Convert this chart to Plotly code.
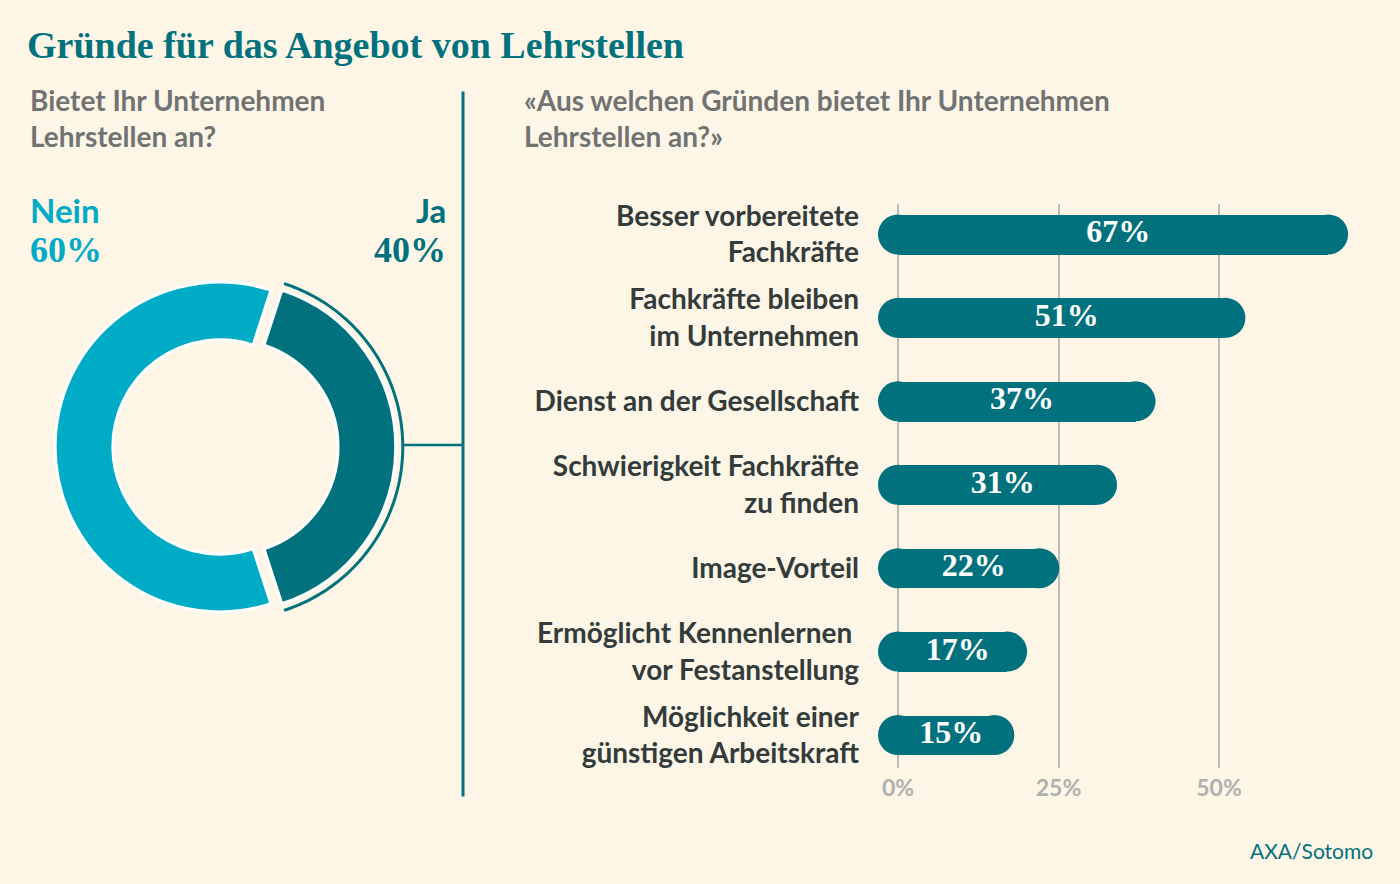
import numpy as np
import plotly.graph_objects as go

# ---------------- data ----------------
donut_labels = ["Ja", "Nein"]
donut_values = [40, 60]

categories = [
    "Besser vorbereitete<br>Fachkräfte",
    "Fachkräfte bleiben<br>im Unternehmen",
    "Dienst an der Gesellschaft",
    "Schwierigkeit Fachkräfte<br>zu finden",
    "Image-Vorteil",
    "Ermöglicht Kennenlernen <br>vor Festanstellung",
    "Möglichkeit einer<br>günstigen Arbeitskraft",
]
bar_values = [67, 51, 37, 31, 22, 17, 15]
x_tick_vals = [0, 25, 50]
x_tick_text = ["0%", "25%", "50%"]

# ---------------- styles ----------------
W, H = 1400, 884
BG = "#fdf6e7"
TEAL = "#01727d"
CYAN = "#00abc6"
DARK = "#333b3b"
GREY_TXT = "#707372"
SANS = "Lato, 'Noto Sans', sans-serif"
SERIF = "'Liberation Serif', 'DejaVu Serif', serif"


def fx(x):
    return x / W


def fy(y):
    return 1 - y / H


fig = go.Figure()

# ---------------- donut ----------------
cx, cy, R = 220, 445, 166
pull = 0.066
half_box = R * (1 + pull)
fig.add_trace(go.Pie(
    labels=donut_labels, values=donut_values, sort=False,
    direction="clockwise", rotation=18, hole=0.65,
    pull=[pull, 0],
    marker=dict(colors=[TEAL, CYAN], line=dict(color="#ffffff", width=3)),
    textinfo="none", hoverinfo="label+percent", showlegend=False,
    domain=dict(x=[fx(cx - half_box), fx(cx + half_box)],
                y=[fy(cy + half_box), fy(cy - half_box)]),
))

# arc around the "Ja" slice
ja_share = donut_values[0] / sum(donut_values)
half_angle = ja_share * 360 / 2
arc_theta = np.linspace(-half_angle, half_angle, 120)
acx = cx + pull * R
arc_R = 173
pol_half = arc_R * 1.05
fig.add_trace(go.Scatterpolar(
    r=np.ones_like(arc_theta), theta=arc_theta, mode="lines",
    line=dict(color=TEAL, width=3), hoverinfo="skip", showlegend=False,
    subplot="polar",
))

# ---------------- bars ----------------
ypos = list(range(len(categories)))
bar_color = TEAL
fig.add_trace(go.Bar(
    x=bar_values, y=ypos, orientation="h", width=0.476,
    marker=dict(color=bar_color, line=dict(width=0)),
    hoverinfo="x", showlegend=False,
))
# round caps
fig.add_trace(go.Scatter(
    x=[0] * len(bar_values) + bar_values, y=ypos + ypos, mode="markers",
    marker=dict(size=40, color=bar_color, line=dict(width=0)),
    hoverinfo="skip", showlegend=False, cliponaxis=False,
))
# value labels
label_shift = 0.8
fig.add_trace(go.Scatter(
    x=[v / 2 + label_shift for v in bar_values], y=ypos, mode="text",
    text=[f"{v}%" for v in bar_values],
    textfont=dict(family=SERIF, size=32, color="#ffffff", weight="bold"),
    textposition="middle center", hoverinfo="skip", showlegend=False,
    cliponaxis=False,
))

px_per = 6.42
x0_px = 898
left_px, right_px = 878, 1392
top_px, bot_px = 200, 768
step = 84
y0_px = 231

fig.update_layout(
    width=W, height=H,
    margin=dict(l=0, r=0, t=0, b=0),
    paper_bgcolor=BG, plot_bgcolor="rgba(0,0,0,0)",
    bargap=0,
    xaxis=dict(
        domain=[fx(left_px), fx(right_px)],
        range=[(left_px - x0_px) / px_per, (right_px - x0_px) / px_per],
        tickvals=x_tick_vals, ticktext=x_tick_text,
        showgrid=True, gridcolor="#bdbcb8", gridwidth=1.5,
        zeroline=False, showline=False, ticks="",
        tickfont=dict(family=SANS, size=23, color="#b0b0ae", weight="bold"),
        ticklabelstandoff=4, fixedrange=True,
    ),
    yaxis=dict(
        domain=[fy(bot_px), fy(top_px)],
        range=[(bot_px - y0_px) / step, (top_px - y0_px) / step],
        tickvals=ypos, ticktext=categories,
        showgrid=False, zeroline=False, showline=False, ticks="",
        tickfont=dict(family=SANS, size=28, color=DARK, weight="bold"),
        ticklabelstandoff=18, fixedrange=True,
    ),
    polar=dict(
        domain=dict(x=[fx(acx - pol_half), fx(acx + pol_half)],
                    y=[fy(cy + pol_half), fy(cy - pol_half)]),
        bgcolor="rgba(0,0,0,0)",
        radialaxis=dict(range=[0, 1.05], visible=False),
        angularaxis=dict(visible=False, rotation=0, direction="counterclockwise"),
    ),
    shapes=[
        dict(type="line", xref="paper", yref="paper",
             x0=fx(463), x1=fx(463), y0=fy(87), y1=fy(797),
             line=dict(color=TEAL, width=3)),
        dict(type="line", xref="paper", yref="paper",
             x0=fx(acx + arc_R), x1=fx(463), y0=fy(443), y1=fy(443),
             line=dict(color=TEAL, width=2.5)),
    ],
)

ann = []


def add_text(text, x, y, xanchor, font, yanchor="middle"):
    ann.append(dict(text=text, x=fx(x), y=fy(y), xref="paper", yref="paper",
                    xanchor=xanchor, yanchor=yanchor, showarrow=False,
                    align="left" if xanchor == "left" else "right", font=font))


add_text("Gründe für das Angebot von Lehrstellen", 25, 40, "left",
         dict(family=SERIF, size=38, color=TEAL, weight="bold"))
add_text("Bietet Ihr Unternehmen<br>Lehrstellen an?", 28, 114, "left",
         dict(family=SANS, size=28, color=GREY_TXT, weight="bold"))
add_text("«Aus welchen Gründen bietet Ihr Unternehmen<br>Lehrstellen an?»", 522, 114, "left",
         dict(family=SANS, size=28, color=GREY_TXT, weight="bold"))
add_text("Nein", 28, 206, "left", dict(family=SANS, size=33, color=CYAN, weight="bold"))
add_text("60%", 28, 247, "left", dict(family=SERIF, size=36, color=CYAN, weight="bold"))
add_text("Ja", 448, 206, "right", dict(family=SANS, size=33, color=TEAL, weight="bold"))
add_text("40%", 448, 247, "right", dict(family=SERIF, size=36, color=TEAL, weight="bold"))
add_text("AXA/Sotomo", 1375, 851, "right", dict(family=SANS, size=21, color=TEAL))

fig.update_layout(annotations=ann)

fig.write_html("out.html")
